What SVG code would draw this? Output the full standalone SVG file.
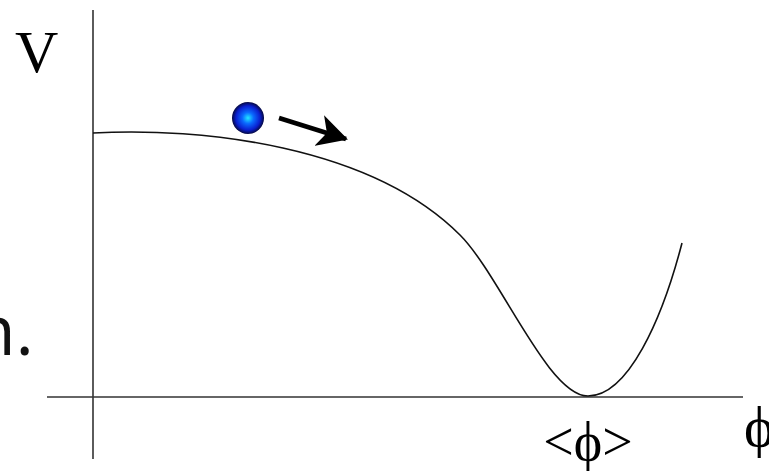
<svg xmlns="http://www.w3.org/2000/svg" width="769" height="471" viewBox="0 0 769 471">
<style>
.axis{stroke:#333;stroke-width:1.6;fill:none}
.curve{stroke:#111;stroke-width:1.6;fill:none}
.serif{font-family:"Liberation Serif","Times New Roman",serif;fill:#000}
.sans{font-family:"Open Sans","Liberation Sans",sans-serif;fill:#111}
</style>
<defs>
<radialGradient id="ballGrad" cx="50%" cy="50%" r="50%">
<stop offset="0" stop-color="#22e8ff"/>
<stop offset="0.35" stop-color="#0a6bff"/>
<stop offset="0.75" stop-color="#0a1fd0"/>
<stop offset="1" stop-color="#050840"/>
</radialGradient>
<marker id="head" viewBox="0 0 30 32" refX="28" refY="16" markerWidth="30" markerHeight="32" markerUnits="userSpaceOnUse" orient="auto">
<path d="M0,0 L30,16 L0,32 L8,16 Z" fill="#000"/>
</marker>
</defs>
<g id="axes">
<line class="axis" x1="93" y1="10" x2="93" y2="459"/>
<line class="axis" x1="47" y1="397" x2="743" y2="397"/>
</g>
<g id="potential">
<path class="curve" d="M93,133 C200,127 370,145 460,235 C500,275 548,396 588,396 C628,396 662,320 682,243"/>
</g>
<g id="ball">
<circle cx="248" cy="118" r="16" fill="url(#ballGrad)"/>
</g>
<g id="connectors">
<line x1="279" y1="118" x2="346" y2="139" stroke="#000" stroke-width="4.5" marker-end="url(#head)"/>
</g>
<g id="labels">
<text class="serif" x="15" y="72" font-size="60">V</text>
<text class="sans" x="34" y="355" font-size="70" text-anchor="end">n.</text>
<text class="serif" x="588" y="460" font-size="54" text-anchor="middle">&lt;ϕ&gt;</text>
<text class="serif" x="744" y="446" font-size="58">ϕ</text>
</g>
</svg>
